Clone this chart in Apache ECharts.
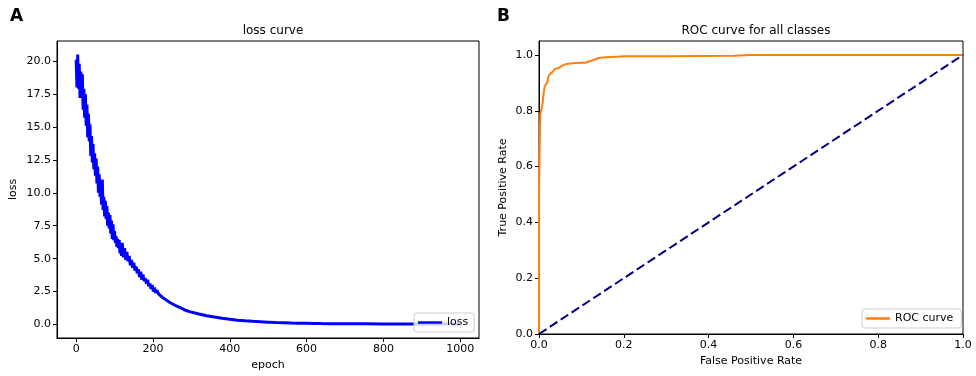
<!DOCTYPE html>
<html>
<head>
<meta charset="utf-8">
<script src="https://cdn.jsdelivr.net/npm/echarts@6/dist/echarts.min.js"></script>
<style>
  html, body { margin: 0; padding: 0; background: #fff; }
  #chart { width: 976px; height: 376px; }
</style>
</head>
<body>
<div id="chart"></div>
<script>
// loss curve (panel A)
const lossEpochs = [
  0, 2, 4, 6, 8, 10, 12, 14, 16, 18, 20, 22, 24, 26, 28, 30, 32, 34, 36, 38,
  40, 42, 44, 46, 48, 50, 52, 54, 56, 58, 60, 62, 64, 66, 68, 70, 72, 74, 76, 78,
  80, 82, 84, 86, 88, 90, 92, 94, 96, 98, 100, 102, 104, 106, 108, 110, 112, 114, 116, 118,
  120, 123, 126, 129, 132, 135, 138, 141, 144, 147, 150, 153, 156, 159, 162, 165, 168, 171, 174, 177, 180,
  183, 186, 189, 192, 195, 198, 201, 204, 207, 210, 215, 220, 225, 230, 235, 240, 245, 250, 255, 260,
  265, 270, 275, 280, 285, 290, 295, 300,
  320, 340, 360, 380, 400, 420, 440, 460, 480, 500, 520, 540, 560, 580, 600, 620, 640, 660, 680, 700,
  750, 800, 850, 900, 950, 999
];
const lossValues = [
  20.1, 18.0, 20.5, 17.9, 19.8, 17.2, 19.2, 17.6, 19.0, 16.3, 17.9, 15.7, 17.5, 15.1, 16.7, 14.2, 16.0, 13.9, 15.2, 12.8,
  14.3, 12.3, 13.7, 11.8, 13.0, 11.3, 12.6, 10.7, 12.0, 10.0, 11.4, 9.7, 10.5, 9.1, 11.0, 8.7, 9.7, 8.2, 9.4, 8.0,
  9.0, 7.5, 8.5, 7.3, 8.3, 6.9, 7.9, 6.5, 7.6, 6.4, 7.1, 6.2, 6.7, 5.9, 6.5, 5.8, 6.4, 5.4, 6.1, 5.2,
  6.2, 5.1, 5.8, 4.9, 5.5, 4.8, 5.2, 4.5, 4.9, 4.3, 4.7, 4.1, 4.4, 3.9, 4.2, 3.6, 4.0, 3.4, 3.8, 3.3, 3.5,
  3.1, 3.4, 2.9, 3.1, 2.7, 3.0, 2.5, 2.8, 2.4, 2.6, 2.3, 2.4, 2.05, 2.15, 1.85, 1.95, 1.65, 1.75, 1.5, 1.6,
  1.35, 1.42, 1.22, 1.28, 1.08, 1.12, 0.98, 0.98,
  0.8, 0.67, 0.57, 0.48, 0.4, 0.33, 0.28, 0.24, 0.21, 0.18, 0.15, 0.13, 0.11, 0.10, 0.09, 0.08, 0.07, 0.065, 0.06, 0.055,
  0.05, 0.045, 0.04, 0.035, 0.03, 0.03
];
const lossTicksX = [0, 200, 400, 600, 800, 1000];
const lossTicksY = [0, 2.5, 5, 7.5, 10, 12.5, 15, 17.5, 20];

// ROC curve (panel B)
const rocFpr = [0, 0, 0.001, 0.002, 0.003, 0.005, 0.008, 0.01, 0.013, 0.016, 0.02, 0.023, 0.028, 0.033, 0.037, 0.045,
  0.055, 0.065, 0.08, 0.095, 0.11, 0.125, 0.143, 0.16, 0.183, 0.2, 0.3, 0.46, 0.5, 0.7, 1.0];
const rocTpr = [0, 0.52, 0.6, 0.7, 0.79, 0.8, 0.82, 0.85, 0.885, 0.89, 0.905, 0.926, 0.935, 0.94, 0.95, 0.952,
  0.962, 0.968, 0.97, 0.972, 0.972, 0.98, 0.99, 0.992, 0.994, 0.995, 0.995, 0.997, 1.0, 1.0, 1.0];
const diagX = [0, 1];
const diagY = [0, 1];
const rocTicks = [0, 0.2, 0.4, 0.6, 0.8, 1.0];

const font = 'DejaVu Sans';
const txt = { fontFamily: font, color: '#000', fontSize: 11 };

function axis(opts) {
  return Object.assign({
    type: 'value',
    splitLine: { show: false },
    axisLine: { show: true, onZero: false, lineStyle: { color: '#000', width: 1 } },
    nameTextStyle: { fontFamily: font, color: '#000', fontSize: 11 },
    nameLocation: 'middle'
  }, opts);
}

const chart = echarts.init(document.getElementById('chart'), null, { renderer: 'canvas' });
chart.setOption({
  animation: false,
  backgroundColor: '#fff',
  title: [
    { text: 'A', left: 5, top: 3, textStyle: { fontFamily: font, fontWeight: 'bold', fontSize: 17, color: '#000' } },
    { text: 'B', left: 492, top: 3, textStyle: { fontFamily: font, fontWeight: 'bold', fontSize: 17, color: '#000' } },
    { text: 'loss curve', left: 268, top: 20, textAlign: 'center', textStyle: { fontFamily: font, fontWeight: 'normal', fontSize: 12, color: '#000' } },
    { text: 'ROC curve for all classes', left: 751, top: 20, textAlign: 'center', textStyle: { fontFamily: font, fontWeight: 'normal', fontSize: 12, color: '#000' } }
  ],
  grid: [
    { left: 57, right: 497, top: 41, bottom: 37, show: true, borderColor: '#000', borderWidth: 1 },
    { left: 539, right: 13, top: 41, bottom: 42, show: true, borderColor: '#000', borderWidth: 1 }
  ],
  legend: [
    {
      data: ['loss'], left: 414, top: 313, orient: 'vertical',
      icon: 'rect', itemWidth: 24, itemHeight: 2.5, itemGap: 4,
      padding: [4, 6, 4, 4], borderColor: '#ccc', borderWidth: 1, borderRadius: 3,
      backgroundColor: 'rgba(255,255,255,0.8)',
      textStyle: txt
    },
    {
      data: ['ROC curve'], left: 862, top: 309, orient: 'vertical',
      icon: 'rect', itemWidth: 24, itemHeight: 2.5, itemGap: 4,
      padding: [4, 8, 4, 4], borderColor: '#ccc', borderWidth: 1, borderRadius: 3,
      backgroundColor: 'rgba(255,255,255,0.8)',
      textStyle: txt
    }
  ],
  xAxis: [
    axis({
      gridIndex: 0, min: -49.95, max: 1048.95, name: 'epoch', nameGap: 22,
      axisTick: { show: true, length: 4, lineStyle: { color: '#000' }, customValues: lossTicksX },
      axisLabel: Object.assign({ customValues: lossTicksX, margin: 6, formatter: v => String(v) }, txt)
    }),
    axis({
      gridIndex: 1, min: 0, max: 1, name: 'False Positive Rate', nameGap: 21,
      axisTick: { show: true, length: 4, lineStyle: { color: '#000' }, customValues: rocTicks },
      axisLabel: Object.assign({ customValues: rocTicks, margin: 6, formatter: v => v.toFixed(1) }, txt)
    })
  ],
  yAxis: [
    axis({
      gridIndex: 0, min: -1.025, max: 21.525, name: 'loss', nameGap: 38,
      axisTick: { show: true, length: 4, lineStyle: { color: '#000' }, customValues: lossTicksY },
      axisLabel: Object.assign({ customValues: lossTicksY, margin: 6, formatter: v => v.toFixed(1) }, txt)
    }),
    axis({
      gridIndex: 1, min: 0, max: 1.05, name: 'True Positive Rate', nameGap: 30,
      axisTick: { show: true, length: 4, lineStyle: { color: '#000' }, customValues: rocTicks },
      axisLabel: Object.assign({ customValues: rocTicks, margin: 6, formatter: v => v.toFixed(1) }, txt)
    })
  ],
  series: [
    {
      name: 'loss', type: 'line', xAxisIndex: 0, yAxisIndex: 0, showSymbol: false,
      itemStyle: { color: '#0000ff' },
      lineStyle: { color: '#0000ff', width: 3 },
      data: lossEpochs.map((e, i) => [e, lossValues[i]])
    },
    {
      name: 'ROC curve', type: 'line', xAxisIndex: 1, yAxisIndex: 1, showSymbol: false,
      itemStyle: { color: '#ff7f0e' },
      lineStyle: { color: '#ff7f0e', width: 2 },
      data: rocFpr.map((x, i) => [x, rocTpr[i]])
    },
    {
      name: 'chance', type: 'line', xAxisIndex: 1, yAxisIndex: 1, showSymbol: false,
      lineStyle: { color: '#000080', width: 2, type: [9, 4] },
      data: diagX.map((x, i) => [x, diagY[i]])
    }
  ]
});
</script>
</body>
</html>
